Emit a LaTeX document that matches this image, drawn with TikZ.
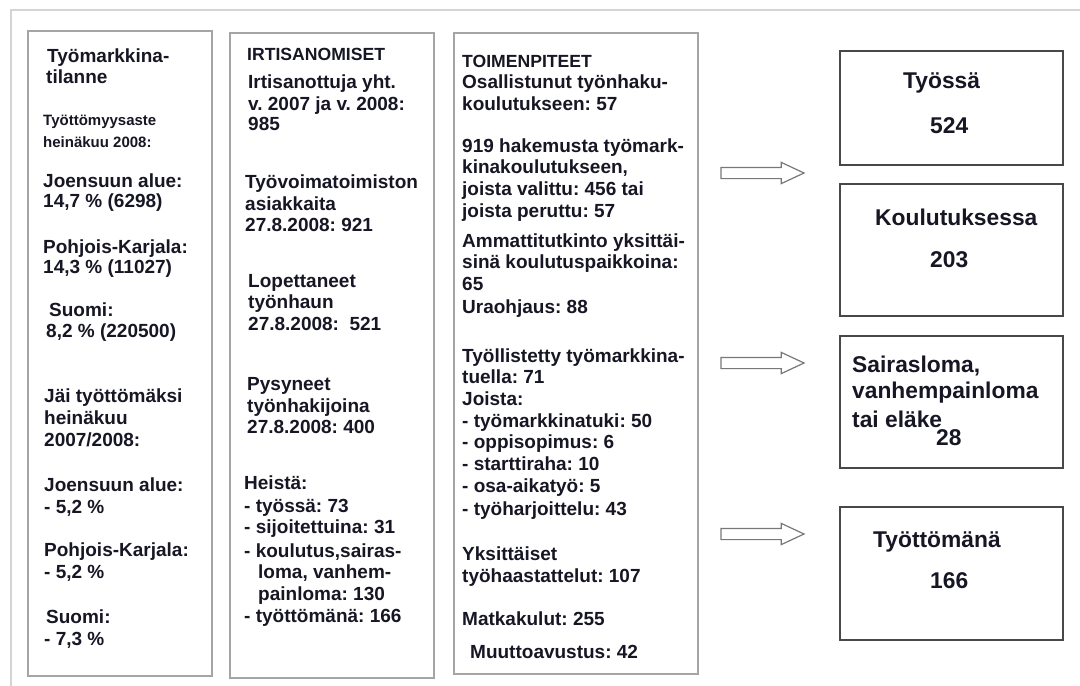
\documentclass[tikz,border=0pt]{standalone}
\usepackage{fontspec}
\setmainfont{Liberation Sans}
\usepackage{tikz}
\usetikzlibrary{shapes.arrows}
\definecolor{ink}{RGB}{22,22,36}
\definecolor{framegray}{RGB}{212,212,212}
\definecolor{colgray}{RGB}{165,165,165}
\definecolor{boxgray}{RGB}{72,72,72}
\definecolor{arrowgray}{RGB}{120,120,120}
\def\TxtSize{19}
\frenchspacing
\tikzset{
  colbox/.style={draw=colgray, line width=1.5pt, anchor=north west, inner sep=0pt},
  resbox/.style={draw=boxgray, line width=2pt, anchor=north west, inner sep=0pt, minimum width=223pt},
  txt/.style={anchor=base west, inner sep=0pt, text=ink, font=\fontsize{\TxtSize}{21}\selectfont\bfseries},
  smalltxt/.style={txt, font=\fontsize{15}{17}\selectfont\bfseries},
  headtxt/.style={txt, font=\fontsize{17.6}{20}\selectfont\bfseries},
  restxt/.style={txt, font=\fontsize{22.8}{27}\selectfont\bfseries},
  blockarrow/.style={single arrow, draw=arrowgray, line width=1.2pt, fill=white,
    minimum height=83pt, minimum width=20pt, inner xsep=0pt, inner ysep=5pt,
    single arrow head extend=5pt, single arrow tip angle=50}
}
\begin{document}
\begin{tikzpicture}[x=1pt,y=-1pt]
  \useasboundingbox (0,0) rectangle (1080,686);
  % outer frame
  \coordinate (fa) at (11,686);
  \coordinate (fb) at (1080,10);
  \draw[framegray, line width=2pt] (fa) |- (fb);
  % columns
  \node[colbox, minimum width=184pt, minimum height=645pt] (tilanne) at (27,30) {};
  \node[colbox, minimum width=204pt, minimum height=645pt] (irtis) at (229,32) {};
  \node[colbox, minimum width=244pt, minimum height=641pt] (toimet) at (453,32) {};
  % result boxes
  \node[resbox, minimum height=114pt] (tyossa) at (839,50) {};
  \node[resbox, minimum height=132pt] (koulutus) at (839,183) {};
  \node[resbox, minimum height=132pt] (sairas) at (839,335) {};
  \node[resbox, minimum height=133pt] (tyoton) at (839,506) {};
  % arrows
  \node[blockarrow] (nuoli1) at (756.5,173) {};
  \node[blockarrow] (nuoli2) at (756.5,363) {};
  \node[blockarrow] (nuoli3) at (756.5,534) {};
  % column 1
  \node[smalltxt] (t-s1) at (43,125) {Työttömyysaste};
  \node[smalltxt] (t-s2) at (43,147) {heinäkuu 2008:};
  \foreach \x/\y/\t [count=\i] in {47/62/Työmarkkina-, 46/83/tilanne,
      43/187/Joensuun alue:, 43/207/{14,7 \% (6298)},
      43/253/Pohjois-Karjala:, 43/273/{14,3 \% (11027)},
      49/316/Suomi:, 46/337/{8,2 \% (220500)},
      44/402/Jäi työttömäksi, 44/424/heinäkuu, 44/446/{2007/2008:},
      44/491/Joensuun alue:, 44/513/{- 5,2 \%},
      44/556/Pohjois-Karjala:, 44/578/{- 5,2 \%},
      46/623/Suomi:, 44/645/{- 7,3 \%}}
    \node[txt] (t-\i) at (\x,\y) {\t};
  % column 2
  \node[headtxt] (i-h) at (247,60) {IRTISANOMISET};
  \foreach \x/\y/\t [count=\i] in {248/88/Irtisanottuja yht., 248/110/v. 2007 ja v. 2008:, 248/130/985,
      245/188/Työvoimatoimiston, 245/210/asiakkaita, 245/231/27.8.2008: 921,
      248/287/Lopettaneet, 248/308/työnhaun, 248/330/27.8.2008:\ \ 521,
      247/390/Pysyneet, 247/412/työnhakijoina, 247/433/27.8.2008: 400,
      244/489/Heistä:, 244/512/- työssä: 73, 244/533/- sijoitettuina: 31,
      244/557/{- koulutus,sairas-}, 258/578/{loma, vanhem-}, 258/600/painloma: 130,
      244/622/- työttömänä: 166}
    \node[txt] (i-\i) at (\x,\y) {\t};
  % column 3
  \node[headtxt] (m-h) at (462,67) {TOIMENPITEET};
  \foreach \x/\y/\t [count=\i] in {462/88/Osallistunut työnhaku-, 462/110/koulutukseen: 57,
      462/152/919 hakemusta työmark-, 462/173/{kinakoulutukseen,},
      462/195/joista valittu: 456 tai, 462/217/joista peruttu: 57,
      462/247/Ammattitutkinto yksittäi-, 462/268/sinä koulutuspaikkoina:,
      462/290/65, 462/313/Uraohjaus: 88,
      462/362/Työllistetty työmarkkina-, 462/383/tuella: 71, 462/405/Joista:,
      462/427/- työmarkkinatuki: 50, 462/448/- oppisopimus: 6,
      462/470/- starttiraha: 10, 462/492/- osa-aikatyö: 5, 462/515/- työharjoittelu: 43,
      462/560/Yksittäiset, 462/582/työhaastattelut: 107,
      462/625/Matkakulut: 255, 470/658/Muuttoavustus: 42}
    \node[txt] (m-\i) at (\x,\y) {\t};
  % results
  \node[restxt] (r-1) at (903,88) {Työssä};
  \node[restxt] (r-2) at (930,133) {524};
  \node[restxt] (r-3) at (875,225) {Koulutuksessa};
  \node[restxt] (r-4) at (930,267) {203};
  \node[restxt] (r-5) at (852,372) {Sairasloma,};
  \node[restxt] (r-6) at (852,398) {vanhempainloma};
  \node[restxt] (r-7) at (852,427) {tai eläke};
  \node[restxt] (r-8) at (936,445) {28};
  \node[restxt] (r-9) at (873,547) {Työttömänä};
  \node[restxt] (r-10) at (930,588) {166};
\end{tikzpicture}
\end{document}
